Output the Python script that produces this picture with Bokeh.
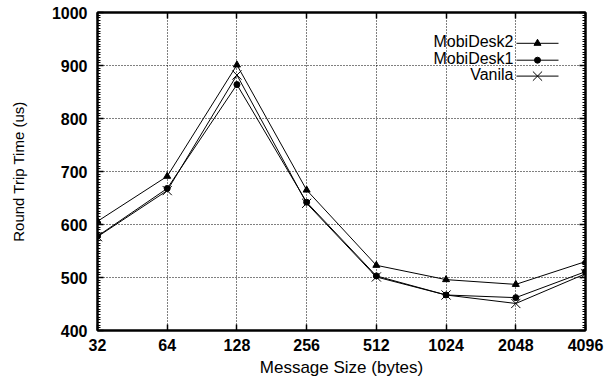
from bokeh.plotting import figure
from bokeh.models import (FixedTicker, SingleIntervalTicker, NumeralTickFormatter,
                          LinearAxis, LogAxis, Range1d, LinearScale, Label,
                          CustomLabelingPolicy)
from bokeh.embed import file_html
from bokeh.resources import INLINE

# ---- data ----
sizes = [32, 64, 128, 256, 512, 1024, 2048, 4096]
mobidesk2 = [606, 691, 901, 665, 523, 496, 487, 530]
mobidesk1 = [578, 668, 864, 642, 503, 467, 462, 511]
vanila = [577, 664, 882, 640, 501, 467, 451, 507]
series_names = ["MobiDesk2", "MobiDesk1", "Vanila"]

FONT = "Liberation Sans"

p = figure(width=607, height=379, x_axis_type="log", x_range=(32, 4096),
           y_range=(400, 1000), output_backend="svg", toolbar_location=None,
           min_border_left=97, min_border_right=22, min_border_top=12,
           min_border_bottom=47)
p.background_fill_color = "white"
p.border_fill_color = "white"
p.outline_line_color = "black"
p.outline_line_width = 2

xt = FixedTicker(ticks=sizes, minor_ticks=[])
yt = SingleIntervalTicker(interval=100, num_minor_ticks=20)

xa = p.xaxis[0]
xa.ticker = xt
xa.formatter = NumeralTickFormatter(format="0")
ya = p.yaxis[0]
ya.ticker = yt

for ax in (xa, ya):
    ax.axis_line_width = 2
    ax.axis_line_color = "black"
    ax.major_tick_in = 6
    ax.major_tick_out = 0
    ax.minor_tick_in = 3
    ax.minor_tick_out = 0
    ax.major_tick_line_width = 1.5
    ax.major_label_text_font = FONT
    ax.major_label_text_font_style = "bold"
    ax.major_label_text_font_size = "16px"
    ax.major_label_text_color = "black"
    ax.axis_label_text_font = FONT
    ax.axis_label_text_font_style = "normal"
    ax.axis_label_text_color = "black"

xa.axis_label = "Message Size (bytes)"
xa.axis_label_text_font_size = "17px"
xa.major_label_standoff = 8
xa.axis_label_standoff = 4
ya.axis_label = "Round Trip Time (us)"
ya.axis_label_text_font_size = "15px"
ya.major_label_standoff = 10
ya.axis_label_standoff = 22

# mirror axes (top & right) with inward ticks only, no labels
top = LogAxis(ticker=xt, major_label_policy=CustomLabelingPolicy(code="return new Set()"))
right = LinearAxis(ticker=yt, major_label_policy=CustomLabelingPolicy(code="return new Set()"))
for ax in (top, right):
    ax.axis_line_width = 2
    ax.major_tick_in = 6
    ax.major_tick_out = 0
    ax.minor_tick_in = 3
    ax.minor_tick_out = 0
    ax.major_tick_line_width = 1.5
    ax.major_label_standoff = 0
    ax.axis_label_standoff = 0
    ax.major_label_text_font_size = "0px"
p.add_layout(top, "above")
p.add_layout(right, "right")

for g in (p.xgrid[0], p.ygrid[0]):
    g.grid_line_color = "black"
    g.grid_line_dash = "1 2"
    g.grid_line_width = 1
p.xgrid[0].ticker = xt

# ---- series ----
p.line(sizes, mobidesk2, line_color="black", line_width=1)
p.scatter(sizes, mobidesk2, marker="triangle", size=7, color="black")
p.line(sizes, mobidesk1, line_color="black", line_width=1)
p.scatter(sizes, mobidesk1, marker="circle", size=6, color="black")
p.line(sizes, vanila, line_color="black", line_width=1)
p.scatter(sizes, vanila, marker="x", size=13, line_color="black", line_width=1)

# ---- legend (label on the left, sample on the right) ----
p.extra_x_ranges = {"leg": Range1d(0, 488)}
p.extra_y_ranges = {"leg": Range1d(0, 320)}
p.extra_x_scales = {"leg": LinearScale()}
p.extra_y_scales = {"leg": LinearScale()}
leg_y = [289, 272, 256]
markers = ["triangle", "circle", "x"]
msizes = [7, 6, 13]
for name, yy, mk, ms in zip(series_names, leg_y, markers, msizes):
    p.add_layout(Label(x=416, y=yy, x_units="screen", y_units="screen", text=name,
                       text_align="right", text_baseline="middle",
                       text_font=FONT, text_font_size="16px", text_color="black"))
    p.line([419, 461], [yy, yy], line_color="black", line_width=1,
           x_range_name="leg", y_range_name="leg")
    p.scatter([440], [yy], marker=mk, size=ms, color="black", line_width=1,
              x_range_name="leg", y_range_name="leg")

open("out.html", "w").write(file_html(p, INLINE))
